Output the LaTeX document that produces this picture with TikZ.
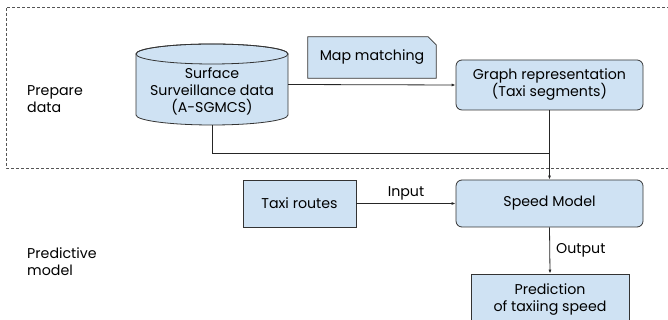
\documentclass[tikz,border=0pt]{standalone}
\usepackage{fontspec}
\setmainfont{Poppins}
\usetikzlibrary{arrows.meta}
\definecolor{boxfill}{HTML}{CFE2F3}
\definecolor{boxline}{HTML}{333333}
\definecolor{dashline}{HTML}{555555}
\begin{document}
\begin{tikzpicture}[x=1pt,y=1pt,
  font=\fontsize{14.2}{17}\selectfont,
  plainbox/.style={draw=boxline,fill=boxfill,line width=0.8pt,align=center,inner sep=0pt},
  roundbox/.style={plainbox,rounded corners=6pt},
  conn/.style={draw=black!85,line width=0.8pt},
  arr/.style={conn,-{Latex[length=4pt,width=3pt]}},
  side/.style={align=left,anchor=west,inner sep=0pt}]
\useasboundingbox (0,0) rectangle (668,320);

% dashed frame around the data preparation stage
\draw[dashline,line width=0.8pt,dash pattern=on 3pt off 2pt]
  (690,313) -- (6,313) -- (6,152) -- (690,152);

% data source cylinder
\filldraw[fill=boxfill,draw=boxline,line width=0.8pt]
  (136,266) -- (136,205) arc[start angle=180,end angle=360,x radius=76,y radius=10]
  -- (288,266) arc[start angle=0,end angle=180,x radius=76,y radius=10] -- cycle;
\draw[boxline,line width=0.8pt] (212,266) ellipse[x radius=76,y radius=10];
\node[minimum width=152pt,minimum height=81pt,inner sep=0pt] (cyl) at (212,235.5) {};
\node[align=center,inner sep=0pt] (cyltext) at (212,229)
  {Surface\\Surveillance data\\(A-SGMCS)};

% note with a snipped corner
\node[minimum width=128pt,minimum height=41pt,inner sep=0pt] (mapm) at (372,262.5) {};
\filldraw[fill=boxfill,draw=boxline,line width=0.8pt]
  (mapm.south west) -- (mapm.north west) -- ([xshift=-8pt]mapm.north east)
  -- ([yshift=-8pt]mapm.north east) -- (mapm.south east) -- cycle;
\node at (mapm.center) {Map matching};

\node[roundbox,minimum width=187pt,minimum height=50pt] (graph) at (549.5,235)
  {Graph representation\\(Taxi segments)};
\node[roundbox,minimum width=187pt,minimum height=47pt] (speed) at (549.5,116.5)
  {Speed Model};
\node[plainbox,minimum width=113pt,minimum height=47pt] (taxi) at (299.5,116.5)
  {Taxi routes};
\node[plainbox,minimum width=158pt,minimum height=52pt] (pred) at (550,20)
  {Prediction\\of taxiing speed};

\node[side] (prep) at (27,220.5) {Prepare\\data};
\node[side] (predm) at (27,58.5) {Predictive\\model};

% connectors
\draw[arr] (cyl.east) -- (graph.west);
\coordinate (merge) at (graph.south |- 0,167);
\draw[conn] (cyl.south) |- (merge);
\draw[arr] (graph.south) -- (speed.north);
\draw[arr] (taxi.east) -- node[above=3pt,inner sep=0pt] {Input} (speed.west);
\draw[arr] (speed.south) -- node[right=6pt,inner sep=0pt] {Output} (pred.north);
\end{tikzpicture}
\end{document}
